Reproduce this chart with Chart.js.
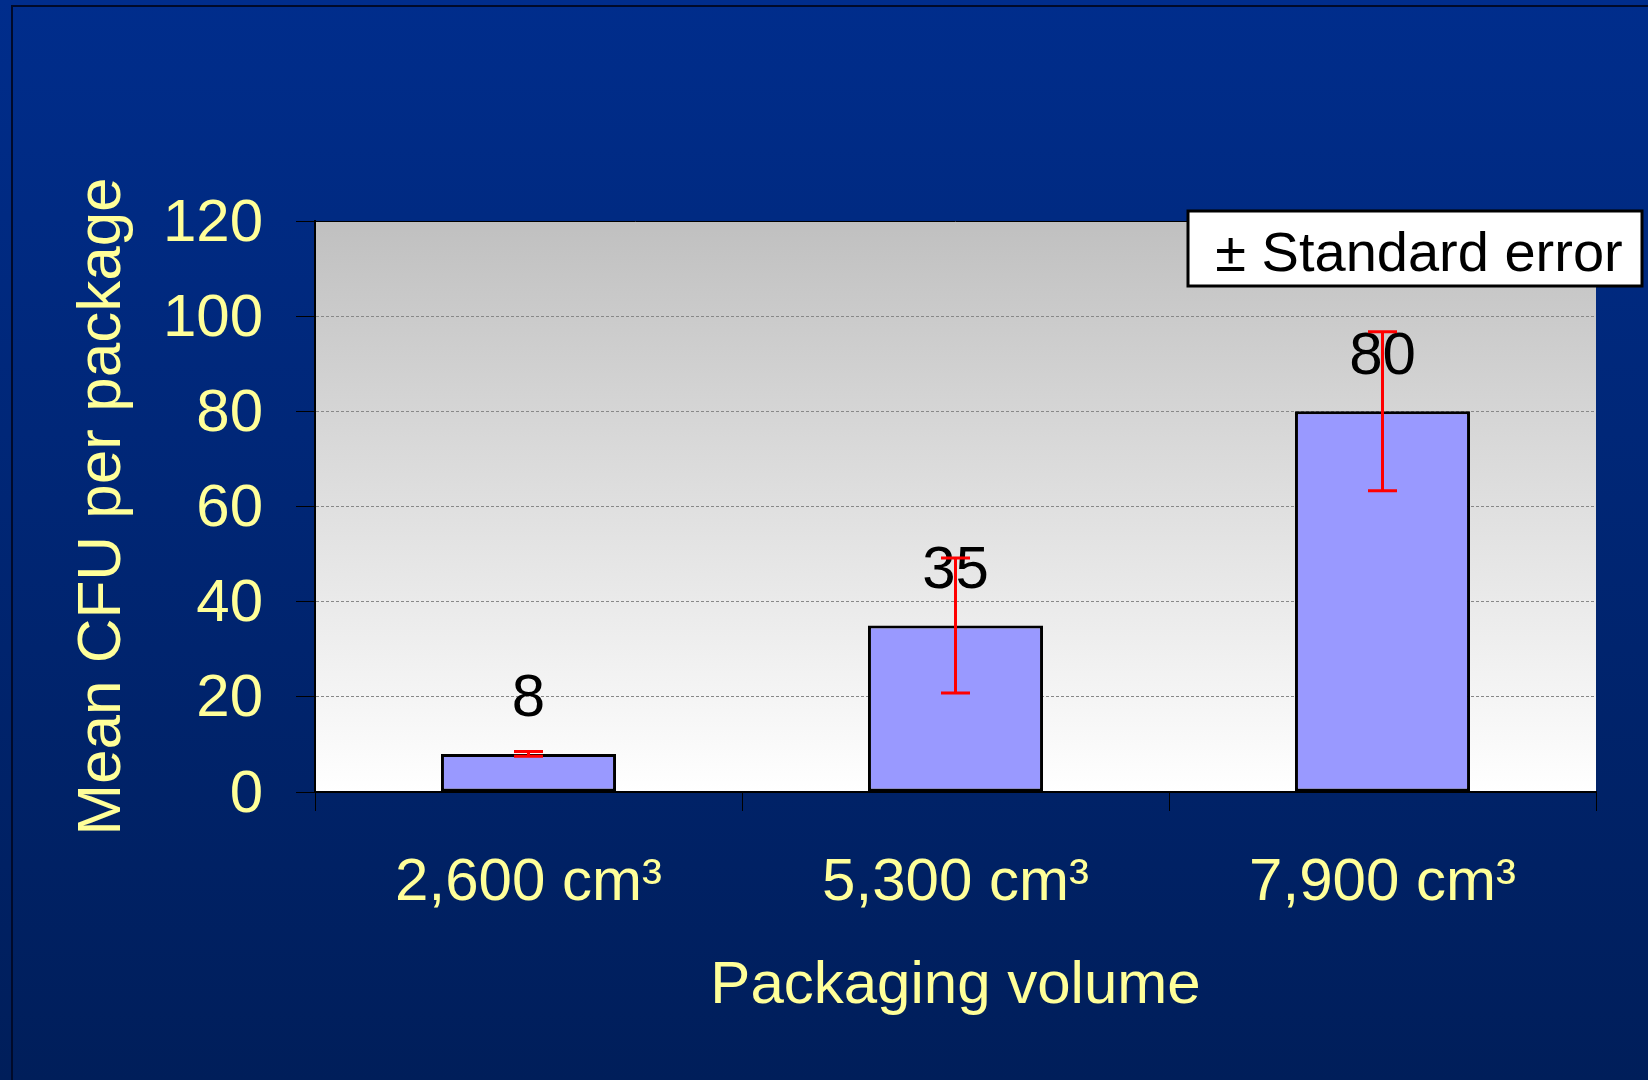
<!DOCTYPE html>
<html>
<head>
<meta charset="utf-8">
<title>Mean CFU per package</title>
<script src="https://cdn.jsdelivr.net/npm/chart.js@4.4.1/dist/chart.umd.min.js"></script>
<style>
    html, body { margin: 0; padding: 0; background: #00277a; }
    canvas { display: block; }
</style>
</head>
<body>
<canvas id="cfuChart" width="1648" height="1080"></canvas>
<script>
// Data
const categories = ['2,600 cm³', '5,300 cm³', '7,900 cm³'];
const meanCfu = [8, 35, 80];
const stdError = [0.5, 14.2, 16.7];
const yMin = 0;
const yMax = 120;
const yStep = 20;

const FONT = "'Liberation Sans', Arial, sans-serif";
const YELLOW = '#FFFF99';

// Slide background, frame and plot area gradient
const backgroundPlugin = {
    id: 'slideBackground',
    beforeDraw(chart) {
        const ctx = chart.ctx;
        const area = chart.chartArea;
        ctx.save();
        let g = ctx.createLinearGradient(0, 0, 0, chart.height);
        g.addColorStop(0, '#002d8c');
        g.addColorStop(1, '#001e5a');
        ctx.fillStyle = g;
        ctx.fillRect(0, 0, chart.width, chart.height);

        // thin dark frame at left and top
        ctx.strokeStyle = '#000a2a';
        ctx.lineWidth = 2;
        ctx.beginPath();
        ctx.moveTo(12, chart.height);
        ctx.lineTo(12, 6);
        ctx.lineTo(chart.width, 6);
        ctx.stroke();

        g = ctx.createLinearGradient(0, area.top, 0, area.bottom);
        g.addColorStop(0, '#c0c0c0');
        g.addColorStop(1, '#ffffff');
        ctx.fillStyle = g;
        ctx.fillRect(area.left, area.top, area.right - area.left, area.bottom - area.top);
        ctx.restore();
    },
    afterDraw(chart) {
        const ctx = chart.ctx;
        const area = chart.chartArea;
        ctx.save();
        // solid top edge of the plot area
        ctx.strokeStyle = '#000';
        ctx.lineWidth = 1;
        ctx.beginPath();
        ctx.moveTo(area.left, area.top + 0.5);
        ctx.lineTo(area.right, area.top + 0.5);
        ctx.stroke();

        // "± Standard error" key box
        const bx = area.right - 408, by = area.top - 10, bw = 454, bh = 75;
        ctx.fillStyle = '#fff';
        ctx.fillRect(bx, by, bw, bh);
        ctx.strokeStyle = '#000';
        ctx.lineWidth = 3;
        ctx.strokeRect(bx, by, bw, bh);
        ctx.fillStyle = '#000';
        ctx.font = '56px ' + FONT;
        ctx.textAlign = 'center';
        ctx.textBaseline = 'middle';
        ctx.fillText('± Standard error', bx + bw / 2 + 4, by + bh / 2 + 7);
        ctx.restore();
    }
};

// Value labels above bars, then red error bars on top
const barExtrasPlugin = {
    id: 'barExtras',
    afterDatasetsDraw(chart) {
        const ctx = chart.ctx;
        const yScale = chart.scales.y;
        const bars = chart.getDatasetMeta(0).data;
        ctx.save();
        ctx.fillStyle = '#000';
        ctx.font = '60px ' + FONT;
        ctx.textAlign = 'center';
        ctx.textBaseline = 'middle';
        bars.forEach((bar, i) => {
            ctx.fillText(String(meanCfu[i]), bar.x, bar.y - 54);
        });

        ctx.strokeStyle = '#ff0000';
        ctx.lineWidth = 3;
        const capHalf = 14.5;
        bars.forEach((bar, i) => {
            const hi = yScale.getPixelForValue(meanCfu[i] + stdError[i]);
            const lo = yScale.getPixelForValue(meanCfu[i] - stdError[i]);
            ctx.beginPath();
            ctx.moveTo(bar.x, hi);
            ctx.lineTo(bar.x, lo);
            ctx.moveTo(bar.x - capHalf, hi);
            ctx.lineTo(bar.x + capHalf, hi);
            ctx.moveTo(bar.x - capHalf, lo);
            ctx.lineTo(bar.x + capHalf, lo);
            ctx.stroke();
        });
        ctx.restore();
    }
};

const ctx = document.getElementById('cfuChart').getContext('2d');
const cfuChart = new Chart(ctx, {
    type: 'bar',
    data: {
        labels: categories,
        datasets: [{
            label: 'Mean CFU per package',
            data: meanCfu,
            backgroundColor: '#9999FF',
            borderColor: '#000',
            borderWidth: 3,
            borderSkipped: false,
            barPercentage: 0.41,
            categoryPercentage: 1
        }]
    },
    options: {
        responsive: false,
        animation: false,
        devicePixelRatio: 1,
        layout: { padding: { top: 221, right: 52, bottom: 0, left: 0 } },
        plugins: {
            legend: { display: false },
            tooltip: { enabled: false }
        },
        scales: {
            x: {
                grid: {
                    offset: true,
                    drawOnChartArea: false,
                    drawTicks: true,
                    tickLength: 19,
                    tickColor: '#000',
                    tickWidth: 1
                },
                border: { color: '#000', width: 2 },
                ticks: {
                    color: YELLOW,
                    font: { family: FONT, size: 60 },
                    padding: 36,
                    maxRotation: 0
                },
                title: {
                    display: true,
                    text: 'Packaging volume',
                    color: YELLOW,
                    font: { family: FONT, size: 60 },
                    padding: { top: 0, bottom: 58 }
                },
                afterFit(scale) { scale.height = 288; }
            },
            y: {
                min: yMin,
                max: yMax,
                grid: {
                    color: '#888',
                    lineWidth: 1,
                    tickLength: 19,
                    tickColor: '#000',
                    tickWidth: 1,
                    tickBorderDash: []
                },
                border: { color: '#000', width: 2, dash: [3, 2] },
                ticks: {
                    stepSize: yStep,
                    color: YELLOW,
                    font: { family: FONT, size: 60 },
                    padding: 33,
                    labelOffset: 3
                },
                title: {
                    display: true,
                    text: 'Mean CFU per package',
                    color: YELLOW,
                    font: { family: FONT, size: 62 },
                    padding: { top: 66, bottom: 0 }
                },
                afterFit(scale) { scale.width = 315; }
            }
        }
    },
    plugins: [backgroundPlugin, barExtrasPlugin]
});
</script>
</body>
</html>
